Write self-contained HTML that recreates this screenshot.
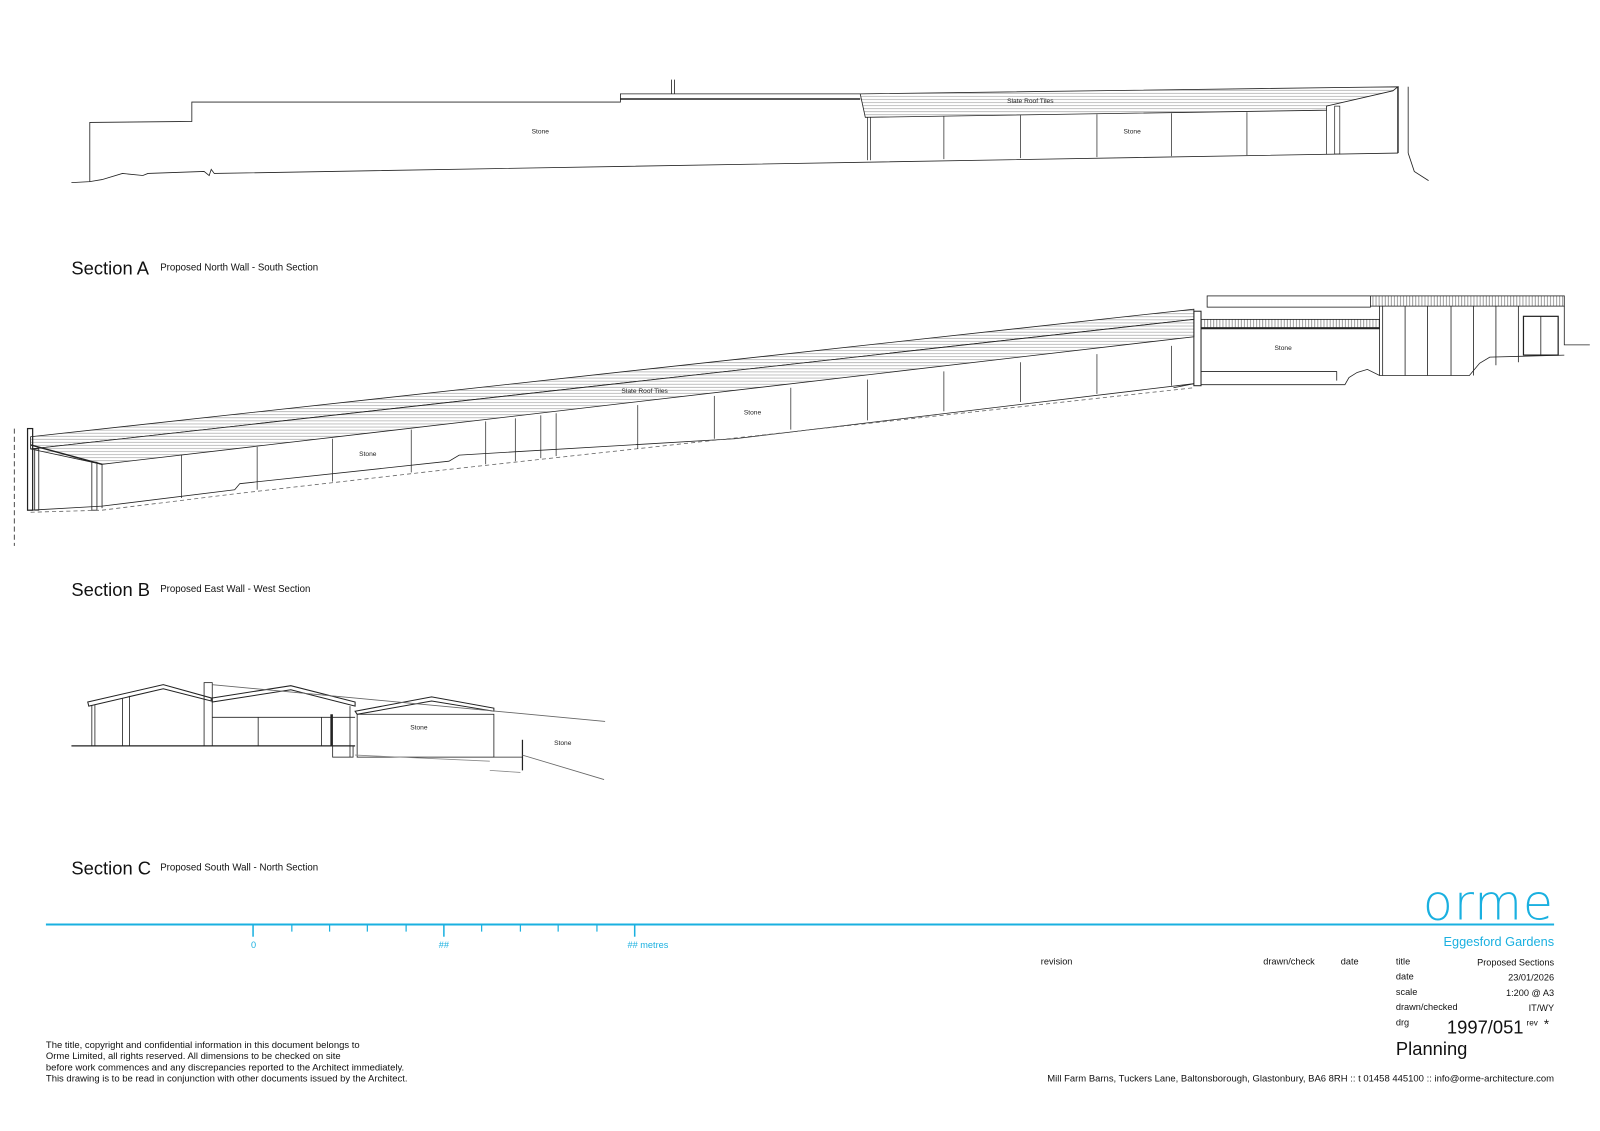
<!DOCTYPE html>
<html><head><meta charset="utf-8"><style>
html,body{margin:0;padding:0;background:#fff;overflow:hidden;}
svg{display:block;font-family:"Liberation Sans",Arial,sans-serif;}
</style></head><body>
<svg width="1600" height="1131" viewBox="0 0 1568 1108.4" preserveAspectRatio="none" xmlns="http://www.w3.org/2000/svg">
<defs>
<pattern id="h" width="6" height="3" patternUnits="userSpaceOnUse"><rect width="6" height="3" fill="#fff"/><line x1="0" y1="1.5" x2="6" y2="1.5" stroke="#999" stroke-width="0.6"/></pattern>
<pattern id="v" width="3" height="6" patternUnits="userSpaceOnUse"><rect width="3" height="6" fill="#fff"/><line x1="1.5" y1="0" x2="1.5" y2="6" stroke="#777" stroke-width="0.7"/></pattern>
</defs>
<g fill="none" stroke="#222" stroke-width="0.8">
<!-- Section A -->
<polyline points="70,179 88,178 88,120 188,119 188,100 608,100 608,92 843,92"/>
<line x1="608" y1="97" x2="843" y2="97" stroke-width="1.4"/>
<line x1="658" y1="78" x2="658" y2="92"/><line x1="661" y1="78" x2="661" y2="92"/>
<polygon points="843,92 1370,85 1365,89 1300,104 1300,108 848,115" fill="url(#h)"/>
<polyline points="88,178 100,176 120,170 140,172 145,170 200,168 205,172 207,166 210,170 1370,150"/>
<g stroke-width="0.7">
<line x1="850" y1="115" x2="850" y2="157"/><line x1="853" y1="115" x2="853" y2="157"/>
<line x1="925" y1="114" x2="925" y2="156"/><line x1="1000" y1="113" x2="1000" y2="155"/>
<line x1="1075" y1="112" x2="1075" y2="154"/><line x1="1148" y1="111" x2="1148" y2="153"/>
<line x1="1222" y1="110" x2="1222" y2="152"/><line x1="1300" y1="108" x2="1300" y2="151"/>
<rect x="1308" y="104" width="5" height="47"/>
</g>
<line x1="1370" y1="85" x2="1370" y2="150" stroke-width="1.4"/><line x1="1380" y1="85" x2="1380" y2="150"/>
<polyline points="1380,150 1386,168 1400,177"/>
<!-- Section B -->
<polygon points="30,428 1170,303 1170,313 30,440" fill="url(#h)"/>
<polygon points="30,440 1170,313 1170,330 100,455" fill="url(#h)"/>
<line x1="30" y1="436" x2="100" y2="455" stroke-width="1.4"/>
<line x1="14" y1="420" x2="14" y2="535" stroke-dasharray="5,3"/>
<rect x="27" y="420" width="5" height="80" stroke-width="1.2"/>
<rect x="34" y="440" width="4" height="60"/><rect x="90" y="453" width="5" height="47"/>
<line x1="100" y1="455" x2="100" y2="498"/>
<polyline points="30,500 100,496 230,480 235,474 440,452 450,446 720,430 1170,376"/>
<polyline points="30,502 100,500 230,484 440,460 1170,380" stroke-dasharray="4,3" stroke="#666"/>
<g stroke-width="0.7">
<line x1="178" y1="446" x2="178" y2="488"/><line x1="252" y1="438" x2="252" y2="480"/>
<line x1="326" y1="430" x2="326" y2="472"/><line x1="403" y1="421" x2="403" y2="463"/>
<line x1="476" y1="413" x2="476" y2="455"/><line x1="505" y1="410" x2="505" y2="452"/>
<line x1="530" y1="407" x2="530" y2="449"/><line x1="545" y1="405" x2="545" y2="447"/>
<line x1="625" y1="397" x2="625" y2="440"/><line x1="700" y1="388" x2="700" y2="430"/>
<line x1="775" y1="380" x2="775" y2="421"/><line x1="850" y1="372" x2="850" y2="412"/>
<line x1="925" y1="364" x2="925" y2="403"/><line x1="1000" y1="355" x2="1000" y2="394"/>
<line x1="1075" y1="347" x2="1075" y2="386"/><line x1="1148" y1="339" x2="1148" y2="378"/>
</g>
<rect x="1170" y="305" width="7" height="73" stroke-width="1"/>
<rect x="1183" y="290" width="160" height="11"/>
<rect x="1343" y="290" width="190" height="10" fill="url(#v)"/>
<rect x="1177" y="313" width="175" height="8" fill="url(#v)"/>
<line x1="1177" y1="322" x2="1352" y2="322" stroke-width="1.4"/>
<line x1="1352" y1="300" x2="1352" y2="368"/><line x1="1355" y1="300" x2="1355" y2="368"/>
<g><line x1="1377" y1="300" x2="1377" y2="368"/><line x1="1399" y1="300" x2="1399" y2="368"/><line x1="1422" y1="300" x2="1422" y2="368"/><line x1="1444" y1="300" x2="1444" y2="368"/><line x1="1466" y1="300" x2="1466" y2="358"/><line x1="1488" y1="300" x2="1488" y2="355"/></g>
<rect x="1493" y="310" width="34" height="38" stroke-width="1.2"/><line x1="1510" y1="310" x2="1510" y2="348"/>
<polyline points="1533,300 1533,338 1558,338"/>
<polyline points="1177,377 1318,377 1322,370 1330,365 1340,362 1352,368 1440,368 1450,356 1460,350 1533,348"/>
<line x1="1177" y1="364" x2="1310" y2="364"/><line x1="1310" y1="364" x2="1310" y2="373"/>
<line x1="1150" y1="380" x2="1170" y2="376" />
<!-- Section C -->
<line x1="70" y1="731" x2="348" y2="731" stroke-width="1.2"/>
<polygon points="86,688 160,671 207,684 207,687 160,675 87,692" stroke-width="1"/>
<line x1="90" y1="691" x2="90" y2="731"/><line x1="93" y1="691" x2="93" y2="731"/>
<line x1="120" y1="684" x2="120" y2="731"/><line x1="127" y1="682" x2="127" y2="731"/>
<rect x="200" y="669" width="8" height="62"/>
<polygon points="208,684 285,672 348,688 348,692 285,676 208,688" stroke-width="1"/>
<line x1="208" y1="703" x2="348" y2="703"/>
<line x1="253" y1="703" x2="253" y2="731"/><line x1="315" y1="703" x2="315" y2="731"/>
<line x1="325" y1="700" x2="325" y2="731" stroke-width="2.5"/>
<line x1="343" y1="692" x2="343" y2="742"/>
<rect x="326" y="731" width="20" height="11"/>
<polygon points="348,697 423,683 484,694 484,697 423,687 350,700" stroke-width="1"/>
<rect x="350" y="700" width="134" height="42"/>
<line x1="484" y1="742" x2="512" y2="742"/><line x1="512" y1="725" x2="512" y2="755" stroke-width="1.2"/>
<line x1="208" y1="671" x2="593" y2="707" stroke="#666"/>
<polyline points="348,740 480,746" stroke="#888"/>
<line x1="512" y1="740" x2="592" y2="764" stroke="#666"/>
<line x1="480" y1="755" x2="510" y2="757" stroke="#888"/>
</g>
<g font-size="6.5" fill="#222">
<text x="521" y="131">Stone</text><text x="1101" y="131">Stone</text><text x="987" y="101">Slate Roof Tiles</text>
<text x="609" y="385">Slate Roof Tiles</text><text x="352" y="447">Stone</text><text x="729" y="406">Stone</text><text x="1249" y="343">Stone</text>
<text x="402" y="715">Stone</text><text x="543" y="730">Stone</text>
</g>
<g fill="#111">
<text x="70" y="269" font-size="18">Section A</text><text x="157" y="265" font-size="9.5">Proposed North Wall - South Section</text>
<text x="70" y="584" font-size="18">Section B</text><text x="157" y="580" font-size="9.5">Proposed East Wall - West Section</text>
<text x="70" y="857" font-size="18">Section C</text><text x="157" y="853" font-size="9.5">Proposed South Wall - North Section</text>
</g>
<g stroke="#1ab0e0">
<line x1="45" y1="906" x2="1523" y2="906" stroke-width="2"/>
<line x1="248" y1="906" x2="248" y2="918" stroke-width="1.5"/>
<line x1="435" y1="906" x2="435" y2="918" stroke-width="1.5"/>
<line x1="622" y1="906" x2="622" y2="918" stroke-width="1.5"/>
<g stroke-width="1.2"><line x1="286" y1="906" x2="286" y2="913"/><line x1="323" y1="906" x2="323" y2="913"/><line x1="360" y1="906" x2="360" y2="913"/><line x1="398" y1="906" x2="398" y2="913"/><line x1="472" y1="906" x2="472" y2="913"/><line x1="510" y1="906" x2="510" y2="913"/><line x1="547" y1="906" x2="547" y2="913"/><line x1="585" y1="906" x2="585" y2="913"/></g>
</g>
<g fill="#1ab0e0" font-size="9">
<text x="246" y="929">0</text><text x="430" y="929">##</text><text x="615" y="929">##  metres</text>
<text x="1523" y="927" font-size="12.5" text-anchor="end">Eggesford Gardens</text>
<text x="1523" y="901" font-size="48" text-anchor="end" letter-spacing="1" style="font-family:'DejaVu Sans','Liberation Sans',sans-serif;font-weight:300">orme</text>
</g>
<g fill="#111" font-size="9">
<text x="1020" y="945">revision</text><text x="1238" y="945">drawn/check</text><text x="1314" y="945">date</text>
<text x="1368" y="945">title</text><text x="1523" y="946" text-anchor="end">Proposed Sections</text>
<text x="1368" y="960">date</text><text x="1523" y="961" text-anchor="end">23/01/2026</text>
<text x="1368" y="975">scale</text><text x="1523" y="976" text-anchor="end">1:200 @ A3</text>
<text x="1368" y="990">drawn/checked</text><text x="1523" y="991" text-anchor="end">IT/WY</text>
<text x="1368" y="1005">drg</text>
<text x="1418" y="1013" font-size="18">1997/051</text><text x="1496" y="1005" font-size="8">rev</text><text x="1513" y="1008" font-size="13">*</text>
<text x="1368" y="1034" font-size="18">Planning</text>
<text x="1523" y="1060" text-anchor="end" font-size="9.3">Mill Farm Barns, Tuckers Lane, Baltonsborough, Glastonbury, BA6 8RH :: t 01458 445100 :: info@orme-architecture.com</text>
<g font-size="9.3"><text x="45" y="1027">The title, copyright and confidential information in this document belongs to</text>
<text x="45" y="1038">Orme Limited, all rights reserved. All dimensions to be checked on site</text>
<text x="45" y="1049">before work commences and any discrepancies reported to the Architect immediately.</text>
<text x="45" y="1060">This drawing is to be read in conjunction with other documents issued by the Architect.</text></g>
</g>
</svg>
</body></html>
